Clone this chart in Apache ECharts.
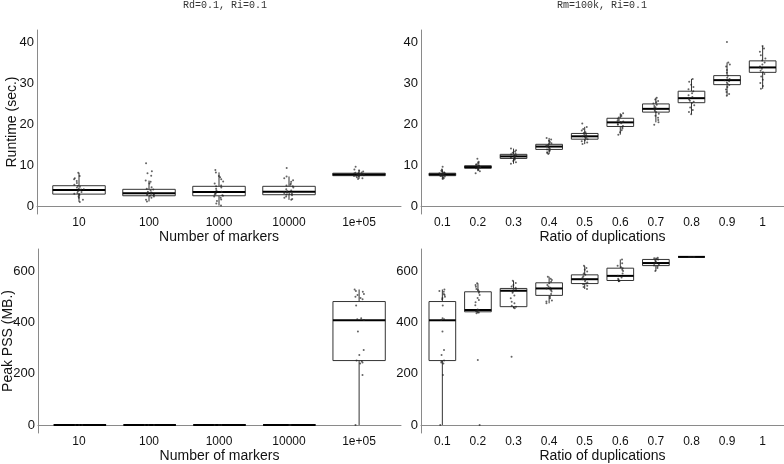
<!DOCTYPE html>
<html>
<head>
<meta charset="utf-8">
<script src="https://cdn.jsdelivr.net/npm/echarts@6/dist/echarts.min.js"></script>
<style>html,body{margin:0;padding:0;background:#fff}#c{width:784px;height:464px}</style>
</head>
<body>
<div id="c"></div>
<script>
// ---------------- data ----------------
const markerCats = ['10', '100', '1000', '10000', '1e+05'];
const dupCats = ['0.1', '0.2', '0.3', '0.4', '0.5', '0.6', '0.7', '0.8', '0.9', '1'];

const runtimeTicks = [0, 10, 20, 30, 40];
const pssTicks = [0, 200, 400, 600];

const titleLeft = 'Rd=0.1, Ri=0.1';
const titleRight = 'Rm=100k, Ri=0.1';

// box stats: [lower whisker, Q1, median, Q3, upper whisker]
const rtMarkerStats = [
  [1.0, 2.9, 3.9, 4.95, 8.1],
  [1.1, 2.5, 3.1, 4.07, 6.2],
  [0.1, 2.5, 3.4, 4.8, 8.2],
  [1.5, 2.75, 3.5, 4.8, 7.2],
  [6.6, 7.4, 7.7, 8.0, 8.9]
];
const rtMarkerPts = [
  [8.1, 7.3, 6.8, 6.5, 6.1, 5.6, 5.2, 4.9, 4.7, 4.5, 4.3, 4.1, 4.0, 3.9, 3.8, 3.6, 3.4, 3.2, 3.0, 2.9, 2.7, 2.4, 2.0, 1.5, 1.0],
  [10.4, 8.5, 8.0, 7.4, 6.2, 5.9, 5.5, 4.6, 4.2, 4.0, 3.8, 3.5, 3.3, 3.2, 3.1, 3.0, 2.9, 2.8, 2.7, 2.6, 2.5, 2.3, 2.0, 1.5, 1.1],
  [8.8, 8.2, 7.3, 7.0, 6.5, 6.0, 5.5, 5.0, 4.8, 4.5, 4.2, 3.8, 3.5, 3.4, 3.2, 3.0, 2.8, 2.6, 2.5, 2.3, 2.0, 1.6, 1.2, 0.6, 0.1],
  [9.3, 7.2, 6.8, 6.3, 5.9, 5.5, 5.2, 5.0, 4.8, 4.5, 4.1, 3.8, 3.6, 3.5, 3.4, 3.3, 3.2, 3.0, 2.9, 2.8, 2.6, 2.3, 2.0, 1.7, 1.5],
  [9.6, 8.9, 8.6, 8.4, 8.2, 8.1, 8.0, 7.9, 7.9, 7.8, 7.8, 7.7, 7.7, 7.7, 7.6, 7.6, 7.5, 7.5, 7.4, 7.3, 7.2, 7.0, 6.8, 6.6]
];

const rtDupStats = [
  [6.6, 7.4, 7.7, 8.0, 8.9],
  [8.5, 9.2, 9.5, 9.83, 10.8],
  [10.3, 11.6, 12.1, 12.6, 14.0],
  [12.7, 13.8, 14.5, 15.05, 16.6],
  [15.1, 16.3, 17.0, 17.7, 19.3],
  [17.4, 19.4, 20.4, 21.4, 22.6],
  [20.4, 22.9, 23.7, 24.9, 26.4],
  [22.4, 25.2, 26.3, 28.0, 31.0],
  [26.9, 29.6, 30.7, 31.8, 35.0],
  [28.6, 32.6, 33.8, 35.4, 39.0]
];
const rtDupPts = [
  [9.6, 8.9, 8.6, 8.4, 8.2, 8.1, 8.0, 7.9, 7.9, 7.8, 7.8, 7.7, 7.7, 7.7, 7.6, 7.6, 7.5, 7.5, 7.4, 7.3, 7.2, 7.0, 6.8, 6.6],
  [11.5, 10.8, 10.5, 10.2, 10.0, 9.9, 9.8, 9.7, 9.6, 9.5, 9.5, 9.4, 9.3, 9.2, 9.1, 9.0, 8.8, 8.5, 8.0],
  [14.0, 13.6, 13.3, 13.0, 12.8, 12.6, 12.4, 12.3, 12.2, 12.1, 12.0, 11.9, 11.8, 11.6, 11.5, 11.3, 11.0, 10.7, 10.3],
  [16.6, 16.2, 15.9, 15.6, 15.3, 15.1, 14.9, 14.7, 14.6, 14.5, 14.4, 14.2, 14.0, 13.8, 13.6, 13.4, 13.1, 12.9, 12.7],
  [20.1, 19.3, 18.8, 18.4, 18.0, 17.8, 17.6, 17.4, 17.2, 17.1, 17.0, 16.9, 16.7, 16.5, 16.3, 16.1, 15.8, 15.5, 15.1],
  [22.6, 22.2, 21.9, 21.6, 21.3, 21.0, 20.8, 20.6, 20.5, 20.4, 20.2, 20.0, 19.8, 19.5, 19.2, 18.9, 18.5, 18.0, 17.4],
  [26.4, 26.0, 25.6, 25.3, 25.0, 24.7, 24.4, 24.1, 23.9, 23.7, 23.5, 23.2, 22.9, 22.5, 22.0, 21.5, 21.0, 20.4, 19.8],
  [31.0, 30.3, 29.6, 29.0, 28.5, 28.0, 27.5, 27.0, 26.6, 26.3, 26.0, 25.7, 25.4, 25.1, 24.6, 24.0, 23.4, 22.9, 22.4],
  [40.0, 35.0, 34.5, 34.0, 33.2, 32.5, 31.8, 31.3, 31.0, 30.7, 30.4, 30.1, 29.8, 29.5, 29.0, 28.4, 27.8, 27.3, 26.9],
  [39.0, 38.4, 37.6, 36.8, 36.0, 35.5, 35.0, 34.5, 34.0, 33.8, 33.5, 33.0, 32.6, 32.2, 31.6, 30.8, 30.0, 29.3, 28.6]
];

const pssMarkerStats = [
  [0, 0, 0, 0, 0],
  [0, 0, 0, 0, 0],
  [0, 0, 0, 0, 0],
  [0, 0, 0, 0, 0],
  [0, 251, 408, 481, 528]
];
const pssMarkerPts = [
  [0, 0, 0],
  [0, 0, 0],
  [0, 0, 0],
  [0, 0, 0],
  [528, 522, 519, 510, 506, 500, 495, 490, 466, 416, 412, 409, 364, 292, 273, 251, 248, 243, 240, 195, 0]
];

const pssDupStats = [
  [0, 251, 408, 481, 528],
  [435, 441, 448, 519, 552],
  [455, 461, 523, 532, 562],
  [474, 505, 532, 554, 578],
  [530, 551, 568, 585, 620],
  [560, 563, 581, 611, 645],
  [600, 621, 631, 645, 652],
  [655, 655, 655, 655, 655],
  null,
  null
];
const pssDupPts = [
  [528, 522, 519, 510, 506, 500, 495, 490, 466, 416, 412, 409, 364, 292, 273, 251, 248, 243, 240, 195, 0],
  [552, 545, 539, 530, 526, 520, 515, 506, 495, 487, 478, 467, 450, 448, 446, 443, 441, 438, 435, 253, 0],
  [562, 553, 545, 540, 535, 530, 527, 523, 520, 515, 505, 494, 480, 474, 465, 461, 458, 455, 266],
  [578, 570, 565, 558, 552, 545, 540, 535, 532, 528, 526, 520, 510, 500, 494, 485, 481, 474],
  [620, 612, 605, 598, 590, 585, 580, 575, 570, 568, 565, 560, 555, 551, 548, 543, 538, 530],
  [645, 630, 620, 615, 611, 605, 600, 590, 581, 575, 570, 565, 563, 562, 561, 560],
  [652, 650, 648, 645, 642, 638, 635, 631, 628, 625, 621, 618, 612, 600],
  [655, 655, 655, 655],
  [],
  []
];

// ---------------- chart ----------------
const SANS = "'Liberation Sans Narrow','Liberation Sans',Arial,sans-serif";
const MONO = "'Liberation Mono','DejaVu Sans Mono',monospace";
const AXIS_COLOR = '#8a8a8a';

const panels = [
  {cats: markerCats, stats: rtMarkerStats, pts: rtMarkerPts, ticks: runtimeTicks, ymin: -1.95, ymax: 42.93,
   left: 37, top: 30, width: 364, height: 184, xname: 'Number of markers', yname: 'Runtime (sec.)', ygap: 18, jitter: 10},
  {cats: dupCats, stats: rtDupStats, pts: rtDupPts, ticks: runtimeTicks, ymin: -1.95, ymax: 42.93,
   left: 421, top: 30, width: 363, height: 184, xname: 'Ratio of duplications', yname: '', ygap: 18, jitter: 6},
  {cats: markerCats, stats: pssMarkerStats, pts: pssMarkerPts, ticks: pssTicks, ymin: -31.2, ymax: 685.7,
   left: 37, top: 249, width: 364, height: 184, xname: 'Number of markers', yname: 'Peak PSS (MB.)', ygap: 23, jitter: 10},
  {cats: dupCats, stats: pssDupStats, pts: pssDupPts, ticks: pssTicks, ymin: -31.2, ymax: 685.7,
   left: 421, top: 249, width: 363, height: 184, xname: 'Ratio of duplications', yname: '', ygap: 18, jitter: 6}
];

const grid = [], xAxis = [], yAxis = [], series = [];

function renderBox(params, api) {
  const x = api.value(0);
  const hw = 0.375;
  const pTopW = api.coord([x, api.value(5)]);
  const pBotW = api.coord([x, api.value(1)]);
  const pQ1L = api.coord([x - hw, api.value(2)]);
  const pQ3R = api.coord([x + hw, api.value(4)]);
  const pMedL = api.coord([x - hw, api.value(3)]);
  const pMedR = api.coord([x + hw, api.value(3)]);
  const boxH = Math.max(pQ1L[1] - pQ3R[1], 0);
  return {
    type: 'group',
    children: [
      {type: 'line', shape: {x1: pTopW[0], y1: pTopW[1], x2: pTopW[0], y2: pQ3R[1]}, style: {stroke: '#333', lineWidth: 1}},
      {type: 'line', shape: {x1: pBotW[0], y1: pQ1L[1], x2: pBotW[0], y2: pBotW[1]}, style: {stroke: '#333', lineWidth: 1}},
      {type: 'rect', shape: {x: pQ1L[0], y: pQ3R[1], width: pQ3R[0] - pQ1L[0], height: boxH}, style: {fill: '#fff', stroke: '#333', lineWidth: 1}},
      {type: 'line', shape: {x1: pMedL[0], y1: pMedL[1], x2: pMedR[0], y2: pMedR[1]}, style: {stroke: '#000', lineWidth: 2}}
    ]
  };
}

panels.forEach((p) => {
  const n = p.cats.length;
  const unit = p.width / (n + 0.2);
  // grid A: ggplot-like continuous scale (axis lines, y labels, boxes)
  const gA = grid.length;
  grid.push({left: p.left, top: p.top, width: p.width, height: p.height, containLabel: false});
  // grid B: category positions for jittered points (same centres)
  const gB = grid.length;
  grid.push({left: p.left + 0.1 * unit, top: p.top, width: n * unit, height: p.height, containLabel: false});

  const xa = xAxis.length;
  xAxis.push({
    gridIndex: gA, type: 'value', min: 0.4, max: n + 0.6,
    axisLine: {show: true, lineStyle: {color: AXIS_COLOR, width: 1}},
    axisTick: {show: false}, axisLabel: {show: false}, splitLine: {show: false},
    name: p.xname, nameLocation: 'middle', nameGap: 16, nameMoveOverlap: false,
    nameTextStyle: {fontFamily: SANS, fontSize: 14, color: '#111'}
  });
  const xb = xAxis.length;
  xAxis.push({
    gridIndex: gB, type: 'category', data: p.cats, jitter: p.jitter,
    axisLine: {show: false}, axisTick: {show: false}, splitLine: {show: false},
    axisLabel: {show: true, interval: 0, margin: 3, fontFamily: SANS, fontSize: 12, color: '#111'}
  });
  const ya = yAxis.length;
  yAxis.push({
    gridIndex: gA, type: 'value', min: p.ymin, max: p.ymax,
    axisLine: {show: true, lineStyle: {color: AXIS_COLOR, width: 1}},
    axisTick: {show: false}, splitLine: {show: false},
    axisLabel: {customValues: p.ticks, margin: 3, fontFamily: SANS, fontSize: 13, color: '#111'},
    name: p.yname, nameLocation: 'middle', nameGap: p.ygap, nameMoveOverlap: false,
    nameTextStyle: {fontFamily: SANS, fontSize: 14, color: '#111'}
  });
  const yb = yAxis.length;
  yAxis.push({
    gridIndex: gB, type: 'value', min: p.ymin, max: p.ymax, show: false
  });

  const boxData = [];
  p.stats.forEach((s, i) => { if (s) boxData.push([i + 1].concat(s)); });
  series.push({
    type: 'custom', xAxisIndex: xa, yAxisIndex: ya, z: 2,
    renderItem: renderBox,
    encode: {x: 0, y: [1, 2, 3, 4, 5]},
    data: boxData, silent: true
  });

  const ptData = [];
  p.pts.forEach((arr, i) => arr.forEach(v => ptData.push([i, v])));
  series.push({
    type: 'scatter', xAxisIndex: xb, yAxisIndex: yb, z: 5,
    symbol: 'circle', symbolSize: 2,
    itemStyle: {color: '#222', opacity: 0.7},
    data: ptData, silent: true
  });
});

const chart = echarts.init(document.getElementById('c'), null, {renderer: 'canvas'});
chart.setOption({
  animation: false,
  backgroundColor: '#fff',
  title: [
    {text: titleLeft, left: 225, top: 0, padding: 0, textAlign: 'center', textStyle: {fontFamily: MONO, fontSize: 10, fontWeight: 'normal', color: '#333'}},
    {text: titleRight, left: 602, top: 0, padding: 0, textAlign: 'center', textStyle: {fontFamily: MONO, fontSize: 10, fontWeight: 'normal', color: '#333'}}
  ],
  grid: grid,
  xAxis: xAxis,
  yAxis: yAxis,
  series: series
});
</script>
</body>
</html>
